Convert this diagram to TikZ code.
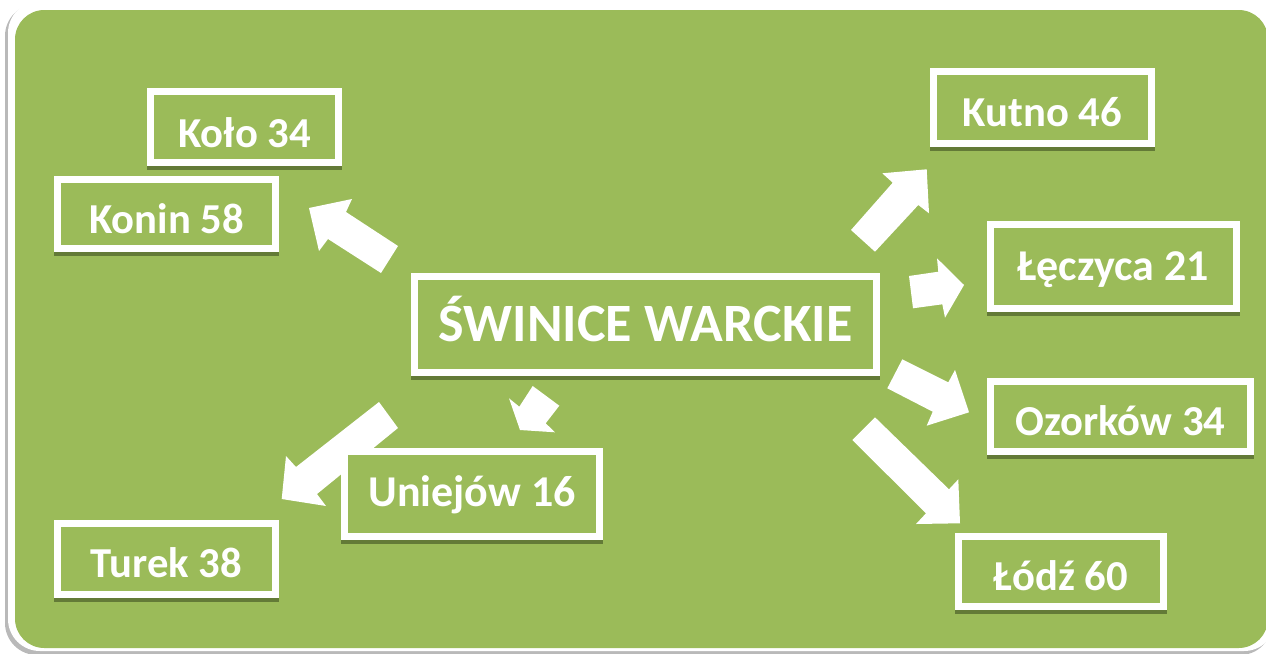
\documentclass[tikz,border=0pt]{standalone}
\usepackage{fontspec}
\setmainfont{Carlito}
\definecolor{olive}{HTML}{9BBB59}
\definecolor{olivedark}{HTML}{637A37}
\begin{document}
\begin{tikzpicture}[x=0.75pt,y=-0.75pt,
  box/.style={draw=white, line width=5.25pt, fill=olive, inner sep=0pt,
    text=white, font=\bfseries\fontsize{32}{32}\selectfont, text depth=0pt,
    preaction={fill=olivedark, draw=olivedark, line width=5.25pt,
      transform canvas={yshift=-3pt}}},
  bigtext/.style={font=\bfseries\fontsize{40.5}{40.5}\selectfont},
  midtext/.style={font=\bfseries\fontsize{33}{33}\selectfont},
  arr/.style={fill=white}]
\useasboundingbox (0,0) rectangle (1266,653);
% background frame
\fill[gray!55, rounded corners=24pt] (5,4) rectangle (1272,655);
\fill[white, rounded corners=24pt] (8,1) rectangle (1276,651);
\fill[olive, rounded corners=22pt] (15,10) rectangle (1268,648);
% block arrows
\fill[arr] (309,208) -- (352,199) -- (346,212) -- (398,246) -- (381,273) -- (328,239) -- (319,251) -- cycle;
\fill[arr] (532.7,386) -- (559.3,405.7) -- (545.7,423.3) -- (555,432.3) -- (520,430) -- (509,398.3) -- (519.3,406.7) -- cycle;
\fill[arr] (281.7,499) -- (286,456) -- (296,467) -- (379,402) -- (398,428) -- (317,494) -- (326,506) -- cycle;
\fill[arr] (926.7,169.3) -- (882.3,173.3) -- (892.7,182.7) -- (851,230) -- (875,251.7) -- (918.3,205) -- (929,213.3) -- cycle;
\fill[arr] (964,285) -- (937,258.3) -- (938.3,271.7) -- (909,276) -- (913,308.3) -- (942.3,304.3) -- (945,317.7) -- cycle;
\fill[arr] (969,412.3) -- (955,370) -- (948.3,382.3) -- (902.3,359.3) -- (887.3,388.3) -- (932.7,411.7) -- (926.7,425.7) -- cycle;
\fill[arr] (960,523.3) -- (958.3,479.3) -- (949,489.3) -- (875,417.3) -- (852.3,440) -- (926,513.3) -- (916,524) -- cycle;
% boxes
\node[box, minimum width=188*0.75pt, minimum height=71*0.75pt, text height=40*0.75pt] (kolo) at (244.5,127) {Koło 34};
\node[box, minimum width=218*0.75pt, minimum height=69*0.75pt, text height=38*0.75pt] (konin) at (166.5,214) {Konin 58};
\node[box, bigtext, minimum width=462*0.75pt, minimum height=96*0.75pt, text height=33*0.75pt] (swinice) at (645.5,324.5) {ŚWINICE WARCKIE};
\node[box, minimum width=218*0.75pt, minimum height=72*0.75pt, text height=37*0.75pt] (kutno) at (1042.5,107.5) {Kutno 46};
\node[box, midtext, minimum width=246*0.75pt, minimum height=84*0.75pt, text height=27*0.75pt] (leczyca) at (1113.5,266.5) {Łęczyca 21};
\node[box, minimum width=260*0.75pt, minimum height=70*0.75pt, text height=37*0.75pt] (ozorkow) at (1120.5,416.5) {Ozorków 34};
\node[box, minimum width=205*0.75pt, minimum height=70*0.75pt, text height=38*0.75pt] (lodz) at (1061,571.5) {Łódź 60};
\node[box, minimum width=218*0.75pt, minimum height=71*0.75pt, text height=36*0.75pt] (turek) at (166.5,559) {Turek 38};
\node[box, midtext, minimum width=255*0.75pt, minimum height=85*0.75pt, text height=24*0.75pt] (uniejow) at (472,494) {Uniejów 16};
\end{tikzpicture}
\end{document}
